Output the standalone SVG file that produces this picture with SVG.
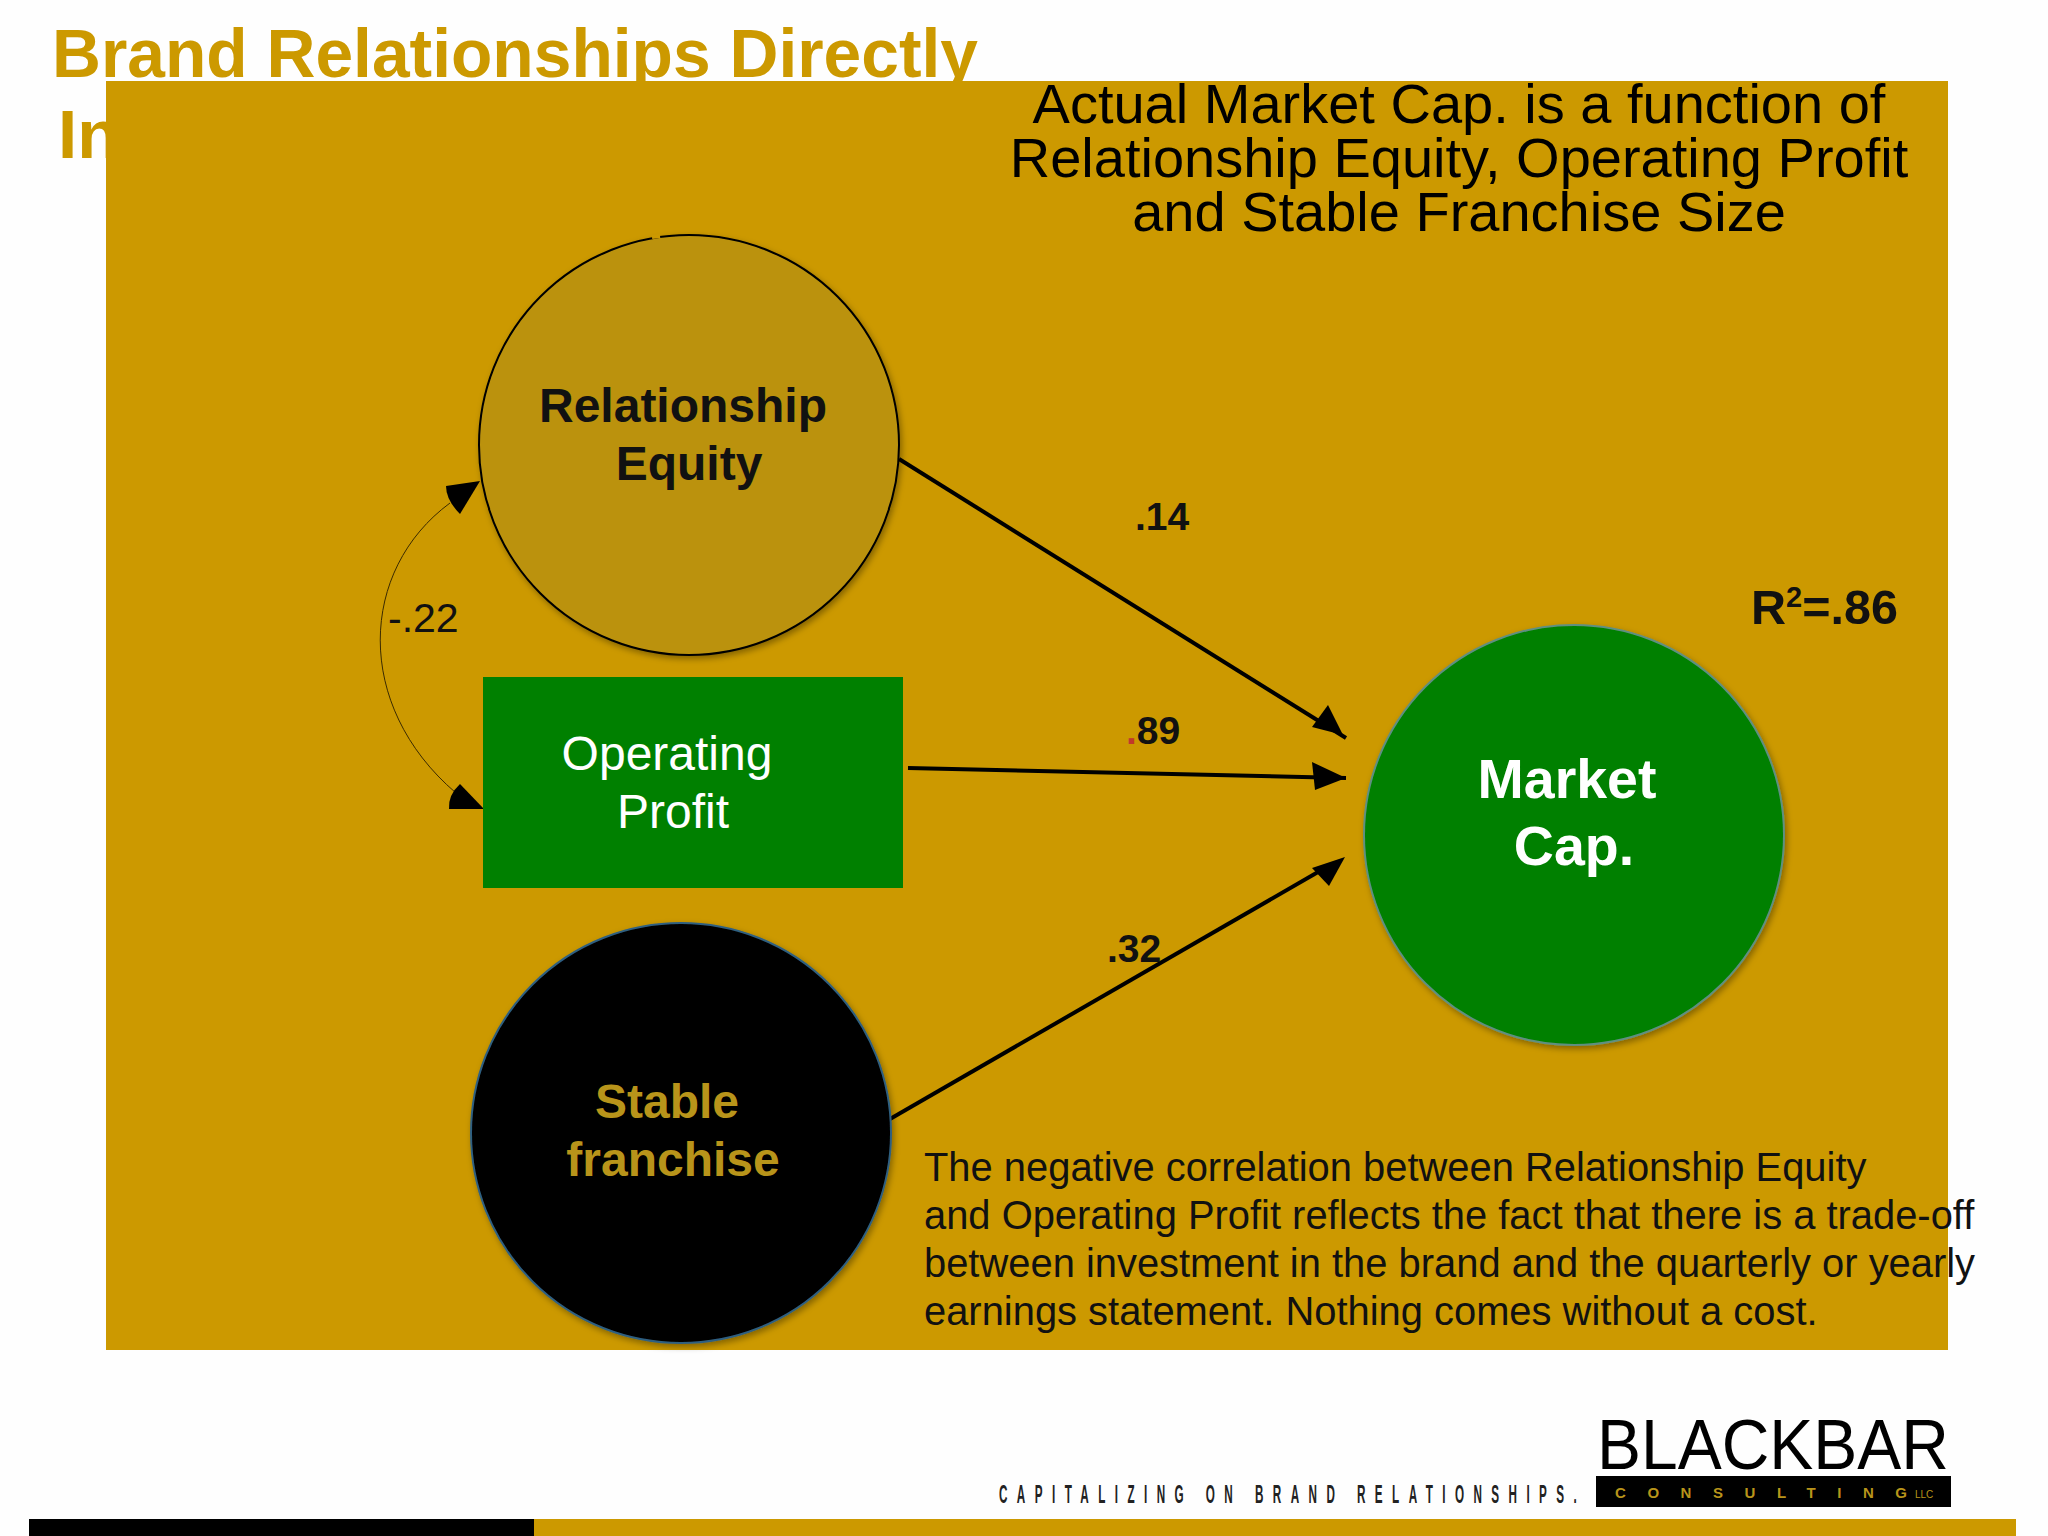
<svg xmlns="http://www.w3.org/2000/svg" width="2048" height="1536" viewBox="0 0 2048 1536">
<defs>
<filter id="sh" x="-10%" y="-10%" width="120%" height="120%"><feDropShadow dx="2" dy="3" stdDeviation="3" flood-color="#000" flood-opacity="0.35"/></filter>
<style>
text{font-family:"Liberation Sans",Arial,sans-serif}
.m{text-anchor:middle}
.conn{fill:none;stroke:#000;stroke-width:4}
.head{fill:#000;stroke:none}
.lab{font-size:39px;font-weight:bold;fill:#111}
.nt{font-size:48px}
.top{font-size:56px;fill:#000;text-anchor:middle}
.note{font-size:39.9px;fill:#111}
</style>
</defs>
<rect width="2048" height="1536" fill="#fefefe"/>
<g id="title" fill="#cc9900">
<text x="52" y="77" font-size="69" font-weight="bold" textLength="926" lengthAdjust="spacingAndGlyphs">Brand Relationships Directly</text>
<text x="58" y="158" font-size="69" font-weight="bold">In</text>
</g>
<rect id="panel" x="106" y="81" width="1842" height="1269" fill="#cc9900"/>
<g id="heading">
<text class="top" x="1459" y="123">Actual Market Cap. is a function of</text>
<text class="top" x="1459" y="177">Relationship Equity, Operating Profit</text>
<text class="top" x="1459" y="231">and Stable Franchise Size</text>
</g>
<g id="connectors">
<line class="conn" x1="899" y1="459" x2="1346" y2="738"/>
<polygon class="head" points="1343,735 1328,705 1312,727"/>
<line class="conn" x1="908" y1="768" x2="1346" y2="778"/>
<polygon class="head" points="1346,778 1312,762 1315,790"/>
<line class="conn" x1="890" y1="1119" x2="1325" y2="868"/>
<polygon class="head" points="1345,857 1312,868 1329,886"/>
<path d="M450,503 C359,570 353,705 456,793" fill="none" stroke="#3a2a00" stroke-width="1"/>
<path class="head" d="M480,481 L446,486 Q446,500 460,514 Z"/>
<path class="head" d="M484,809 L460,784 Q448,795 449,809 Z"/>
</g>
<g id="relationship-equity">
<circle cx="689" cy="445" r="210" fill="#bb9211" stroke="#000" stroke-width="2" filter="url(#sh)"/>
<line x1="652" y1="237" x2="660" y2="236" stroke="#cc9900" stroke-width="4"/>
<text class="nt m" x="683" y="422" font-weight="bold" fill="#111">Relationship</text>
<text class="nt m" x="689" y="480" font-weight="bold" fill="#111">Equity</text>
</g>
<g id="operating-profit">
<rect x="483" y="677" width="420" height="211" fill="#008000"/>
<text class="nt m" x="667" y="770" fill="#fff">Operating</text>
<text class="nt m" x="673" y="828" fill="#fff">Profit</text>
</g>
<g id="stable-franchise">
<circle cx="681" cy="1133" r="210" fill="#000" stroke="#2f5f80" stroke-width="2" filter="url(#sh)"/>
<text class="nt m" x="667" y="1118" font-weight="bold" fill="#b8941a">Stable</text>
<text class="nt m" x="673" y="1176" font-weight="bold" fill="#b8941a">franchise</text>
</g>
<g id="market-cap">
<circle cx="1574" cy="835" r="210" fill="#008000" stroke="#5f8f80" stroke-width="2" filter="url(#sh)"/>
<text class="m" x="1567" y="798" font-size="55.5" font-weight="bold" fill="#fff">Market</text>
<text class="m" x="1574" y="865" font-size="55.5" font-weight="bold" fill="#fff">Cap.</text>
</g>
<g id="labels">
<text class="lab" x="1135" y="530">.14</text>
<text class="lab" x="1126" y="744"><tspan fill="#c0392b">.</tspan>89</text>
<text class="lab" x="1107" y="962">.32</text>
<text x="388" y="632" font-size="41" fill="#111">-.22</text>
<text x="1751" y="624" font-size="48.5" font-weight="bold" fill="#111">R<tspan font-size="29" dy="-17">2</tspan><tspan dy="17">=.86</tspan></text>
</g>
<g id="note">
<text class="note" x="924" y="1181">The negative correlation between Relationship Equity</text>
<text class="note" x="924" y="1229">and Operating Profit reflects the fact that there is a trade-off</text>
<text class="note" x="924" y="1277">between investment in the brand and the quarterly or yearly</text>
<text class="note" x="924" y="1325">earnings statement. Nothing comes without a cost.</text>
</g>
<g id="logo">
<text x="1597" y="1469" font-size="71" fill="#000" textLength="352" lengthAdjust="spacingAndGlyphs">BLACKBAR</text>
<rect x="1596" y="1476" width="355" height="31" fill="#000"/>
<text x="1615" y="1498" font-size="15" font-weight="bold" fill="#b8941a" textLength="292" lengthAdjust="spacing">CONSULTING</text>
<text x="1915" y="1498" font-size="10" fill="#b8941a">LLC</text>
<text transform="translate(999 1503) scale(0.45 1)" font-size="26" fill="#222" font-weight="bold" textLength="1284" lengthAdjust="spacing">CAPITALIZING ON BRAND RELATIONSHIPS.</text>
</g>
<g id="footer">
<rect x="29" y="1519" width="505" height="17" fill="#000"/>
<rect x="534" y="1519" width="1482" height="17" fill="#cc9900"/>
</g>
</svg>
